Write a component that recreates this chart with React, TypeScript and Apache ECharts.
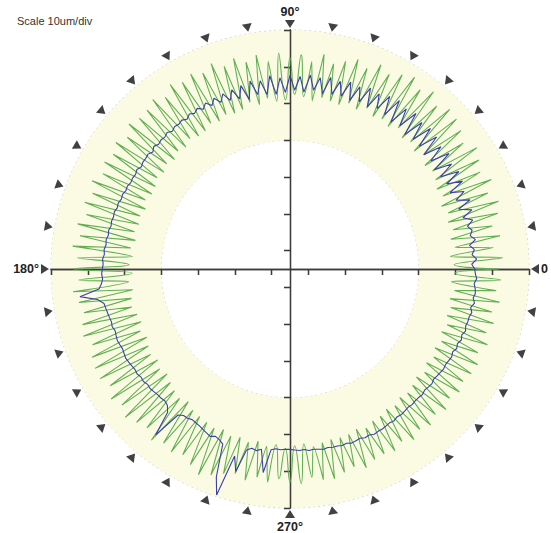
import React, { useEffect, useRef } from "react";
import * as echarts from "echarts";

// Sampling step of the traces (degrees); deviations in um above the inner ring.
const angleStep = 1.5;

const greenTrace = [
  21.8, 9.6, 22.9, 8.7, 20.6, 10.2, 22.8, 9.4, 21.2, 10.6,
  23.5, 9.8, 24.6, 10.6, 22.6, 9.5, 24.9, 11.0, 23.0, 10.4,
  24.3, 11.4, 25.6, 12.0, 23.2, 11.2, 24.8, 12.8, 25.9, 11.5,
  26.4, 12.6, 24.6, 11.9, 27.0, 13.3, 25.2, 12.0, 27.2, 12.8,
  26.0, 12.2, 24.4, 13.4, 25.8, 12.0, 23.4, 12.8, 24.9, 11.6,
  23.4, 11.9, 22.0, 12.4, 24.1, 11.0, 21.7, 12.0, 23.3, 12.5,
  22.4, 11.0, 23.8, 10.7, 21.8, 11.8, 23.9, 10.4, 22.5, 11.6,
  24.3, 10.2, 22.9, 9.9, 24.8, 10.4, 23.3, 9.5, 24.5, 10.1,
  23.6, 9.0, 24.8, 8.8, 22.7, 9.6, 24.3, 8.5, 23.1, 9.2,
  22.9, 8.2, 23.9, 9.0, 21.9, 8.1, 23.5, 8.8, 22.3, 7.9,
  23.2, 7.7, 22.1, 8.5, 23.9, 7.5, 22.5, 8.2, 23.7, 7.8,
  22.3, 8.4, 24.0, 7.7, 22.8, 8.6, 24.4, 7.9, 22.9, 8.7,
  23.9, 7.9, 22.5, 9.0, 24.3, 8.1, 23.1, 8.8, 22.3, 9.2,
  23.4, 8.3, 24.1, 7.9, 22.5, 9.0, 23.9, 8.1, 24.5, 8.8,
  24.6, 9.4, 23.3, 8.6, 25.1, 9.6, 23.8, 8.9, 25.3, 9.8,
  24.0, 10.6, 23.1, 11.2, 24.9, 10.4, 23.5, 11.6, 24.3, 12.0,
  23.3, 12.4, 24.7, 12.9, 26.2, 12.2, 25.0, 13.2, 23.5, 12.7,
  22.6, 13.4, 23.7, 12.6, 22.3, 13.6, 23.3, 12.9, 22.1, 13.8,
  22.9, 13.1, 23.4, 12.7, 21.9, 13.7, 23.0, 13.0, 23.3, 12.6,
  22.2, 12.8, 21.5, 12.7, 22.9, 12.1, 21.7, 12.9, 21.4, 12.0,
  22.1, 11.9, 20.9, 11.2, 22.3, 11.8, 21.1, 10.9, 22.1, 11.4,
  20.9, 10.9, 22.1, 10.2, 20.8, 11.1, 21.9, 10.0, 21.1, 10.8,
  21.9, 9.8, 22.3, 10.6, 20.9, 9.6, 22.5, 10.3, 21.1, 9.5,
  22.3, 9.9, 21.1, 9.2, 22.7, 10.1, 21.3, 9.0, 22.4, 9.7,
];

const blueTrace = [
  15.2, 14.4, 15.8, 14.6, 15.4, 14.2, 16.0, 14.8, 15.6, 14.6,
  16.4, 14.0, 17.0, 13.6, 17.4, 13.8, 16.8, 13.2, 17.6, 13.4,
  18.0, 13.0, 17.4, 12.6, 18.4, 13.2, 17.8, 12.8, 18.6, 13.4,
  19.0, 13.6, 18.6, 13.0, 19.4, 14.0, 18.8, 13.4, 19.6, 14.2,
  19.2, 14.6, 18.4, 13.8, 18.8, 14.2, 18.0, 13.6, 18.4, 14.0,
  17.8, 13.8, 18.2, 13.4, 17.6, 14.0, 18.0, 13.2, 17.4, 13.6,
  17.6, 13.0, 17.0, 12.6, 17.8, 12.8, 16.8, 13.2, 17.2, 12.4,
  16.6, 13.2, 16.2, 13.6, 16.0, 14.0, 15.8, 14.2, 15.6, 14.4,
  15.4, 14.6, 15.2, 14.4, 15.0, 14.6, 14.8, 14.2, 14.9, 14.4,
  14.6, 14.2, 14.8, 14.0, 14.6, 14.4, 14.4, 14.0, 14.6, 14.2,
  14.4, 14.2, 14.6, 14.4, 14.8, 14.6, 15.0, 14.8, 15.2, 15.0,
  15.2, 15.0, 15.4, 15.2, 15.6, 15.4, 15.8, 15.6, 16.0, 15.8,
  16.0, 16.2, 16.0, 16.4, 17.2, 22.6, 18.0, 16.4, 16.2, 16.0,
  15.8, 15.6, 15.8, 15.4, 15.6, 15.8, 15.6, 15.4, 15.6, 15.8,
  15.6, 15.4, 15.2, 15.4, 15.0, 15.2, 14.8, 15.0, 14.8, 14.6,
  14.6, 14.4, 14.8, 16.2, 23.0, 15.0, 14.2, 14.2, 13.8, 14.0,
  14.2, 14.6, 15.0, 15.4, 14.8, 15.2, 16.0, 25.0, 29.6, 18.0,
  22.0, 15.6, 14.8, 15.2, 14.6, 20.8, 14.4, 14.0, 14.2, 14.0,
  14.0, 14.2, 14.4, 14.2, 14.6, 14.4, 14.6, 14.8, 14.6, 14.8,
  14.8, 15.0, 14.8, 15.2, 15.0, 14.8, 15.2, 15.0, 15.4, 15.2,
  15.2, 15.0, 14.8, 15.0, 14.6, 14.8, 14.6, 14.4, 14.6, 14.4,
  14.4, 14.6, 14.2, 14.4, 14.6, 14.2, 14.4, 14.6, 14.8, 14.6,
  14.8, 15.0, 14.6, 15.2, 14.8, 15.4, 15.0, 15.6, 15.2, 15.4,
  15.4, 15.8, 15.2, 16.0, 15.4, 15.8, 15.6, 15.2, 15.8, 15.4,
];

const markerAngles = [
  0, 10, 20, 30, 40, 50, 60, 70, 80, 90, 100, 110, 120, 130, 140, 150, 160, 170,
  180, 190, 200, 210, 220, 230, 240, 250, 260, 270, 280, 290, 300, 310, 320, 330, 340, 350,
];
const angleLabels: Record<number, string> = { 0: "0", 90: "90°", 180: "180°", 270: "270°" };
const titleText = "Scale 10um/div";

const toPolar = (vals: number[]) => {
  const d = vals.map((v, i) => [v, i * angleStep]);
  d.push([vals[0], 360]);
  return d;
};

const CX = 290;
const CY = 269;
const R_OUT = 239;
const R_IN = 129;

export default function App() {
  const ref = useRef<HTMLDivElement>(null);
  useEffect(() => {
    if (!ref.current) return;
    const chart = echarts.init(ref.current, undefined, { renderer: "svg" });
    const dotted = { color: "#c9c9bd", width: 1, type: [2, 3] as any };
    const crossAxis = (inside: boolean) => ({
      type: "value",
      min: -65,
      max: 65,
      interval: 10,
      z: 1,
      axisLine: { show: true, onZero: true, lineStyle: { color: "#3c3c3c", width: 1.3 } },
      axisTick: { show: true, inside, length: 6, lineStyle: { color: "#3c3c3c", width: 1.3 } },
      axisLabel: { show: false },
      splitLine: { show: false },
    });
    chart.setOption({
      animation: false,
      backgroundColor: "#ffffff",
      title: {
        text: titleText,
        left: 12,
        top: 10,
        textStyle: { fontSize: 11, fontWeight: "normal", color: "#333", fontFamily: "Liberation Sans, Arial, sans-serif" },
      },
      polar: [
        { center: [CX, CY], radius: [R_IN, R_OUT] },
        { center: [CX, CY], radius: [0, 245] },
      ],
      angleAxis: [
        {
          polarIndex: 0,
          type: "value",
          min: 0,
          max: 360,
          interval: 10,
          startAngle: 0,
          clockwise: false,
          z: 0,
          axisLine: { show: false },
          axisTick: { show: false },
          splitLine: { show: true, lineStyle: dotted },
          splitArea: { show: true, areaStyle: { color: ["#fbfbe3"] } },
          axisLabel: {
            show: true,
            margin: 12,
            color: "#222",
            fontSize: 12.5,
            fontWeight: "bold",
            fontFamily: "Liberation Sans, Arial, sans-serif",
            formatter: (v: number) => angleLabels[v] ?? "",
          },
        },
        {
          polarIndex: 1,
          type: "value",
          min: 0,
          max: 360,
          startAngle: 0,
          clockwise: false,
          axisLine: { show: false },
          axisTick: { show: false },
          splitLine: { show: false },
          axisLabel: { show: false },
        },
      ],
      radiusAxis: [
        {
          polarIndex: 0,
          type: "value",
          min: 0,
          max: 30,
          interval: 10,
          axisLine: { show: false },
          axisTick: { show: false },
          axisLabel: { show: false },
          splitLine: { show: true, lineStyle: dotted },
        },
        {
          polarIndex: 1,
          type: "value",
          min: 0,
          max: 1,
          axisLine: { show: false },
          axisTick: { show: false },
          axisLabel: { show: false },
          splitLine: { show: false },
        },
      ],
      grid: { left: CX - R_OUT, top: CY - R_OUT, width: 2 * R_OUT, height: 2 * R_OUT },
      xAxis: [crossAxis(false), crossAxis(true)],
      yAxis: [crossAxis(false), crossAxis(true)],
      series: [
        {
          type: "line",
          coordinateSystem: "polar",
          polarIndex: 0,
          data: toPolar(greenTrace),
          showSymbol: false,
          smooth: 0.55,
          lineStyle: { color: "#62b052", width: 1.1 },
          z: 2,
        },
        {
          type: "line",
          coordinateSystem: "polar",
          polarIndex: 0,
          data: toPolar(blueTrace),
          showSymbol: false,
          lineStyle: { color: "#3d3dab", width: 1.1 },
          z: 3,
        },
        {
          type: "scatter",
          coordinateSystem: "polar",
          polarIndex: 1,
          symbol: "triangle",
          symbolSize: [10, 8],
          symbolRotate: (val: number[]) => val[1] + 90,
          itemStyle: { color: "#111" },
          data: markerAngles.map((a) => [1, a]),
          z: 4,
        },
      ],
    });
    return () => chart.dispose();
  }, []);
  return <div ref={ref} style={{ position: "absolute", left: 0, top: 0, width: 551, height: 533 }} />;
}
